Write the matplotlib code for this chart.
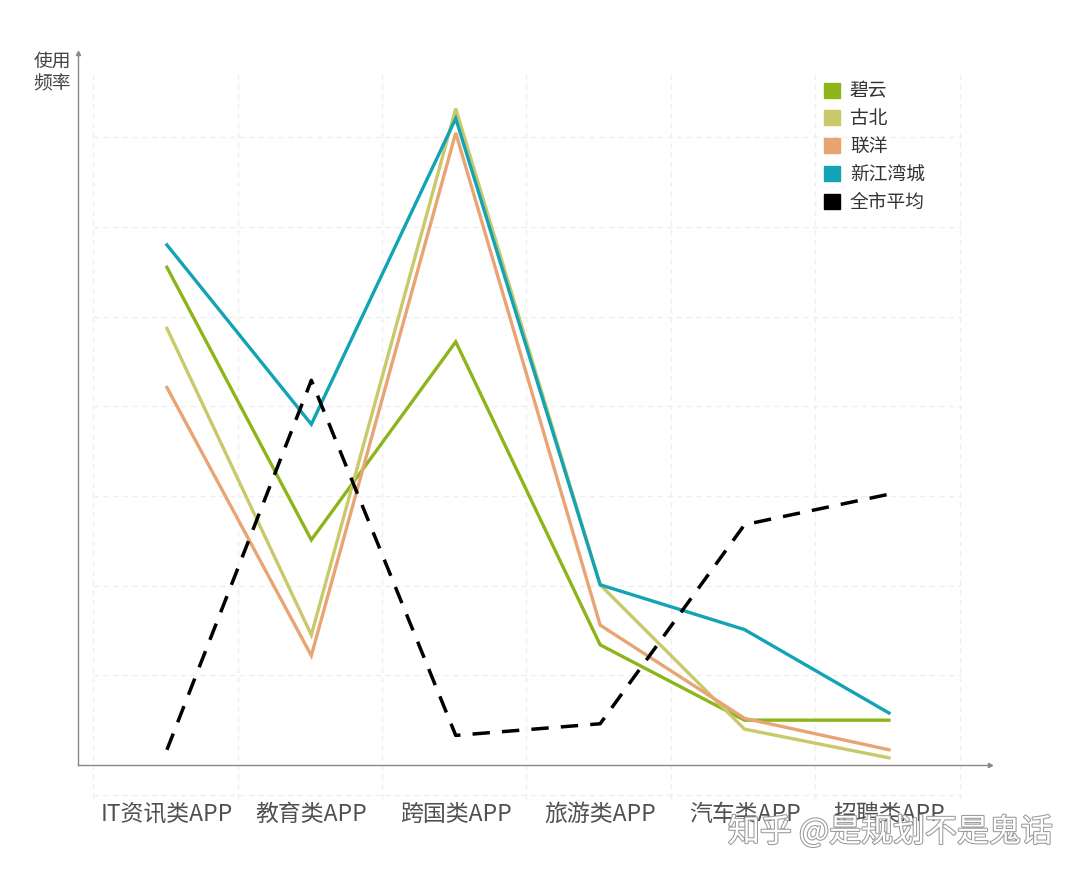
import matplotlib
matplotlib.use("Agg")
import matplotlib.pyplot as plt
from matplotlib.patches import Patch
import matplotlib.patheffects as pe

plt.rcParams['font.family'] = ['Noto Sans CJK SC', 'DejaVu Sans']

categories = ["IT资讯类APP", "教育类APP", "跨国类APP", "旅游类APP", "汽车类APP", "招聘类APP"]
series_names = ["碧云", "古北", "联洋", "新江湾城", "全市平均"]
biyun = [5.55, 2.51, 4.72, 1.34, 0.50, 0.50]
gubei = [4.87, 1.45, 7.32, 2.01, 0.40, 0.08]
lianyang = [4.21, 1.22, 7.05, 1.56, 0.52, 0.17]
xinjiangwan = [5.80, 3.80, 7.21, 2.01, 1.51, 0.58]
city_avg = [0.17, 4.29, 0.33, 0.46, 2.68, 3.02]
colors = ["#8db51a", "#c9c96b", "#e8a473", "#12a3b5", "#000000"]

fig = plt.figure(figsize=(10.8, 8.72), dpi=100)
ax = fig.add_axes([0.0722, 0.1227, 0.8445, 0.8165])
x = list(range(len(categories)))
ax.set_xlim(-0.616, 5.70)
ax.set_ylim(0, 7.94)

# faint background grid table
grid_kw = dict(color="#efefef", lw=1.0, ls=(0, (4, 3)), clip_on=False, zorder=0)
ax.hlines([1, 2, 3, 4, 5, 6, 7], -0.51, 5.50, **grid_kw)
ax.hlines([-0.33], -0.51, 5.50, **grid_kw)
ax.vlines([i - 0.51 for i in range(7)], -0.38, 7.71, **grid_kw)

data = [biyun, gubei, lianyang, xinjiangwan]
for vals, c in zip(data, colors[:4]):
    ax.plot(x, vals, color=c, lw=2.4, solid_joinstyle="miter", zorder=3)
ax.plot(x, city_avg, color="black", lw=2.5, ls=(0, (5, 3.5)), zorder=4)

for s in ["top", "right"]:
    ax.spines[s].set_visible(False)
for s in ["left", "bottom"]:
    ax.spines[s].set_color("#888888")
    ax.spines[s].set_linewidth(1.0)
ax.plot(1, 0, ">", transform=ax.transAxes, color="#888888", ms=3, clip_on=False)
ax.plot(0, 1, "^", transform=ax.transAxes, color="#888888", ms=3, clip_on=False)

ax.set_yticks([])
ax.set_xticks(x)
ax.set_xticklabels(categories, fontsize=16.5, color="#505050", fontweight="medium")
ax.tick_params(axis="x", length=0, pad=27)

fig.text(0.031, 0.942, "使用\n频率", fontsize=13.5, color="#444444", va="top", ha="left",
         linespacing=1.1)

handles = [Patch(facecolor=c, edgecolor=c) for c in colors]
leg = ax.legend(handles, series_names, loc="upper left", bbox_to_anchor=(0.80, 0.985),
                frameon=False, fontsize=13.5, handlelength=0.85, handleheight=0.85,
                handletextpad=0.5, labelspacing=0.36, labelcolor="#333333")

fig.text(0.674, 0.035, "知乎 @是规划不是鬼话", fontsize=23, color="white",
         path_effects=[pe.withStroke(linewidth=1.5, foreground="#999999")])

fig.savefig("out.png", dpi=100, facecolor="white")
